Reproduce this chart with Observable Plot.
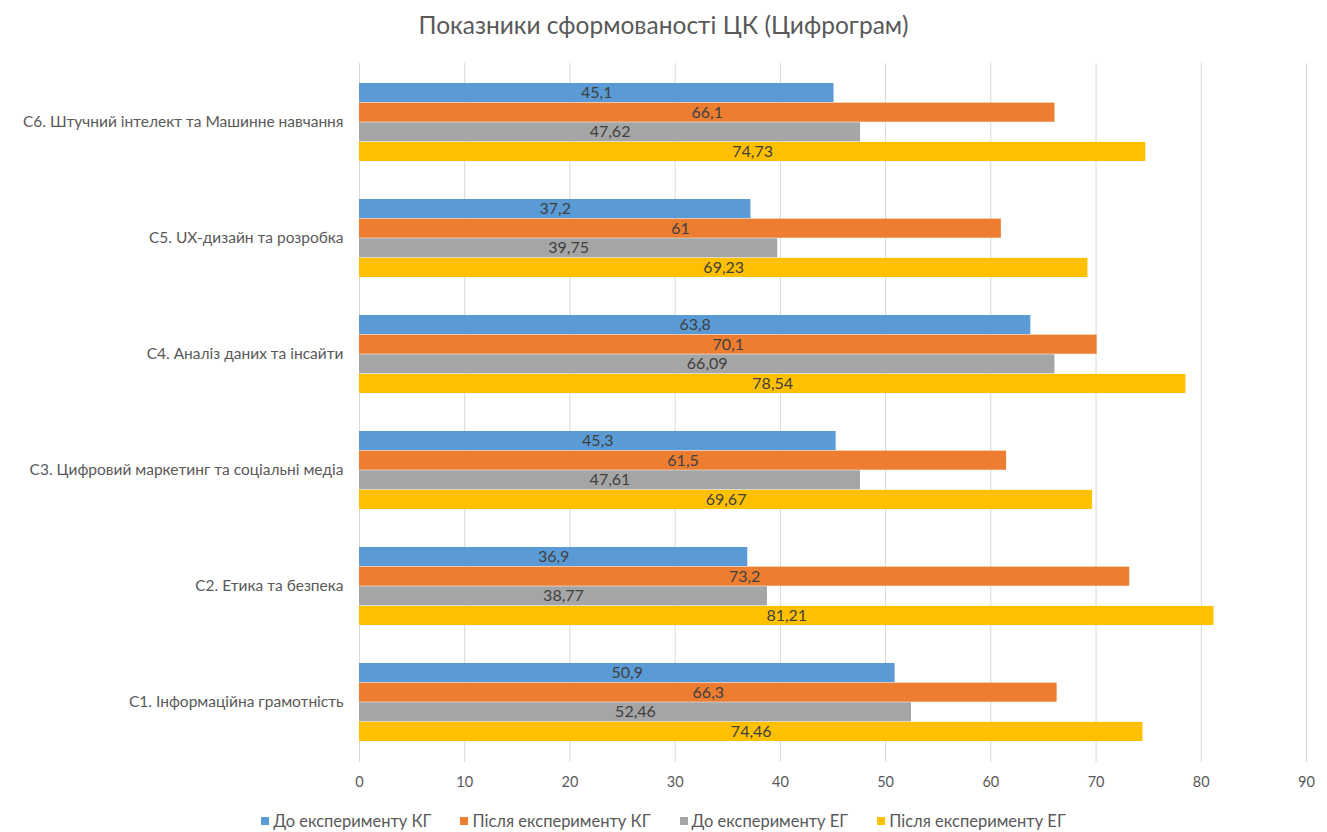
<!DOCTYPE html>
<html>
<head>
<meta charset="utf-8">
<script src="https://cdn.jsdelivr.net/npm/d3@7"></script>
<script src="https://cdn.jsdelivr.net/npm/@observablehq/plot@0.6"></script>
<style>
  html, body { margin: 0; padding: 0; background: #fff; }
  body { width: 1327px; height: 832px; overflow: hidden; font-family: Lato, "Open Sans", sans-serif; }
  #title { height: 50px; line-height: 50px; text-align: center; font-size: 24.5px; color: #595959; }
  #legend { display: flex; justify-content: center; gap: 29px; font-size: 16.5px; color: #595959; padding-top: 11px; }
  #legend span.item { display: inline-flex; align-items: center; gap: 4px; }
  #legend span.sw { width: 8px; height: 8px; display: inline-block; }
</style>
</head>
<body>
<div id="title">Показники сформованості ЦК (Цифрограм)</div>
<div id="chart"></div>
<div id="legend"></div>
<script>
const categories = [
  "C1. Інформаційна грамотність",
  "C2. Етика та безпека",
  "C3. Цифровий маркетинг та соціальні медіа",
  "C4. Аналіз даних та інсайти",
  "C5. UX-дизайн та розробка",
  "C6. Штучний інтелект та Машинне навчання"
];
const seriesNames = ["До експерименту КГ", "Після експерименту КГ", "До експерименту ЕГ", "Після експерименту ЕГ"];
const kgBefore = [50.9, 36.9, 45.3, 63.8, 37.2, 45.1];
const kgAfter  = [66.3, 73.2, 61.5, 70.1, 61, 66.1];
const egBefore = [52.46, 38.77, 47.61, 66.09, 39.75, 47.62];
const egAfter  = [74.46, 81.21, 69.67, 78.54, 69.23, 74.73];
const xTicks = [0, 10, 20, 30, 40, 50, 60, 70, 80, 90];
const colors = ["#5B9BD5", "#ED7D31", "#A5A5A5", "#FFC000"];

const seriesValues = [kgBefore, kgAfter, egBefore, egAfter];
const rows = [];
seriesValues.forEach((vals, si) => {
  vals.forEach((v, ci) => rows.push({category: categories[ci], series: seriesNames[si], si, value: v}));
});

const height = 750, marginTop = 13, marginBottom = 38;
const padInner = 0.326, padOuter = 0.163;
const plotH = height - marginTop - marginBottom;
const step = plotH / (categories.length - padInner + 2 * padOuter);
const bw = step * (1 - padInner);
const barH = bw / 4;

const fmt = v => String(v).replace(".", ",");

const marks = [
  Plot.gridX(xTicks, {stroke: "#D9D9D9", strokeOpacity: 1, strokeWidth: 1})
];
seriesNames.forEach((name, si) => {
  const data = rows.filter(r => r.si === si);
  marks.push(Plot.barX(data, {
    x: "value", y: "category", fill: colors[si],
    insetTop: si * barH, insetBottom: (3 - si) * barH
  }));
  marks.push(Plot.text(data, {
    x: d => d.value / 2, y: "category", text: d => fmt(d.value),
    dy: (si - 1.5) * barH, fill: "#404040", fontSize: 16
  }));
});

const chart = Plot.plot({
  width: 1327,
  height,
  marginLeft: 359,
  marginRight: 21,
  marginTop,
  marginBottom,
  style: {fontFamily: "Lato, 'Open Sans', sans-serif", fontSize: "14.5px", color: "#595959", background: "#fff"},
  x: {domain: [0, 90], ticks: xTicks, tickSize: 0, tickPadding: 14, label: null},
  y: {domain: categories.slice().reverse(), paddingInner: padInner, paddingOuter: padOuter, tickSize: 0, tickPadding: 16, label: null},
  marks: [
    ...marks,
    Plot.axisY({tickSize: 0, tickPadding: 16, fontSize: 15.5}),
    Plot.axisX(xTicks, {tickSize: 0, tickPadding: 14, fontSize: 14.5})
  ]
});
document.getElementById("chart").appendChild(chart);

const legend = document.getElementById("legend");
seriesNames.forEach((name, si) => {
  const item = document.createElement("span");
  item.className = "item";
  const sw = document.createElement("span");
  sw.className = "sw";
  sw.style.background = colors[si];
  item.appendChild(sw);
  item.appendChild(document.createTextNode(name));
  legend.appendChild(item);
});
</script>
</body>
</html>
